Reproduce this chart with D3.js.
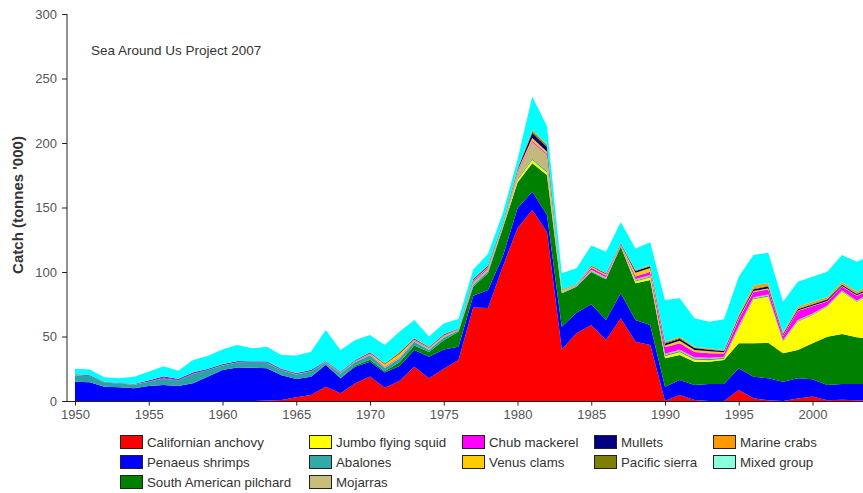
<!DOCTYPE html>
<html>
<head>
<meta charset="utf-8">
<script src="https://cdn.jsdelivr.net/npm/d3@7"></script>
<style>
  html, body { margin: 0; padding: 0; background: #fff; }
  svg { display: block; font-family: "Liberation Sans", Arial, sans-serif; }
</style>
</head>
<body>
<svg id="chart" width="863" height="493"></svg>
<script>
// Years covered by the catch series
const years = d3.range(1950, 2005);

// Catch by taxon, tonnes '000, one value per year 1950-2004
const anchovy = [0,0,0,0,0,0,0,0,0,0, 0,0,0,0.3,0.8,3,4.6,11,6,13.7, 19,10.3,15.5,26.6,17.6,25,31.8,72.5,72,104, 134,148,131,40,52.5,59,47.3,64.1,46,43.4, 0,4.6,0.8,0,0,8.5,2.1,0.5,0,2, 3.4,0.5,1,0.5,0.5];
const shrimps = [15,14.5,11,10.6,9.8,11.6,12.4,11.6,13.7,18.8, 24,26,25.8,25,19.2,14,14.2,16.9,11.6,12.9, 11.5,11.7,11.7,12.9,16.7,15,10.3,9,14,8, 15.4,14.2,13.2,17.6,16,16,15.5,19.4,16.8,15.5, 11.1,11.7,11.6,13.2,13.2,16.8,16.7,17.1,15,15.6, 13.4,11.9,12.2,12.7,12.5];
const pilchard = [0,0,0,0,0,0,0,0,0,0, 0,0,0,0,0,0,0,0.6,0.4,0.9, 1.5,1,2.8,3.5,3.7,7,11.6,7.1,13,22, 20,22.1,31,25.9,20,25,31.5,36.1,28.4,34.9, 22,19.4,18.1,17.3,18.6,19.4,25.9,27.6,22,21.9, 27.9,37.4,38.7,36.2,35];
const squid = [0,0,0,0,0,0,0,0,0,0, 0,0,0,0,0,0,0,0,0,0, 0,0,0,0,0,0,0,0,0,0.5, 1.9,2.5,2,0.5,0.3,0.2,0.2,0.1,1.5,2, 1.5,2,1.5,1,1,11.7,34.1,35.7,9,22, 22,23.3,32.8,27.6,35];
const abalones = [5,4.8,3.4,2.9,2.8,3.3,5,4.2,7.2,5, 3.6,3.8,3.8,4.2,3.8,3.6,4.2,1.2,3.3,2.8, 3.5,2.5,3,3,1.8,2.2,1,1.5,1.5,0.8, 1,1,1,0.3,0.3,0.5,0.5,0.3,0.8,0.8, 1,1,1,1,0.8,1,0.8,0.8,0.6,0.6, 0.6,0.5,0.5,0.5,0.5];
const mojarras = [0.1,0.1,0.1,0.1,0.1,0.1,0.1,0.1,0.1,0.1, 0.1,0.1,0.1,0.1,0.1,0.1,0.1,0.2,0.3,0.3, 0.5,0.5,0.6,0.7,0.7,0.9,0.6,2,2,1.2, 4.5,13,12.5,0.5,0.3,1,1,0.5,1,1, 1,1,1,1,0.7,1,0.8,0.8,0.6,0.6, 0.6,0.5,0.5,0.5,0.5];
const chubMackerel = [0.2,0.2,0.1,0.1,0.2,0.4,1,0.6,0.6,0.4, 0.3,0.4,0.4,0.5,0.5,0.4,0.4,0.3,0.4,0.4, 0.6,0.5,0.6,0.6,0.4,0.5,0.3,1,1,0.5, 1,1,1,0.3,0.3,1.5,1.3,0.6,2,2.5, 5,5,4,3.5,2.5,5,4,4,3,7, 5.5,3,3,3.5,2.5];
const venusClams = [0,0,0,0,0,0,0,0,0,0, 0,0,0,0,0,0,0,0.2,0.2,0.2, 0.5,2,2.5,0.4,0.3,0.3,0.2,0.5,0.5,0.3, 0.8,2,1.5,1,0.4,1,1,0.5,3,3, 1.5,2,1.5,1.5,1,1,0.8,0.8,0.5,0.5, 0.5,0.5,0.5,0.5,0.5];
const mullets = [0.3,0.3,0.2,0.2,0.3,0.4,0.5,0.5,0.5,0.5, 0.5,0.5,0.5,0.5,0.5,0.5,0.5,0.4,0.4,0.4, 0.5,0.4,0.6,0.6,0.5,0.6,0.3,0.8,0.8,0.4, 1,4,3.5,0.2,0.2,0.5,0.5,0.4,1.3,1.3, 1.5,1.5,1.5,1.3,1,1.2,1.5,1.5,1,1, 1,1,1,1,1];
const pacificSierra = [0.05,0.05,0.05,0.05,0.05,0.05,0.05,0.05,0.05,0.05, 0.05,0.05,0.05,0.05,0.05,0.05,0.05,0.1,0.1,0.1, 0.2,0.2,0.4,0.3,0.2,0.3,0.2,0.3,0.3,0.3, 0.5,1.5,1.5,0.1,0.1,0.3,0.2,0.2,0.5,0.5, 0.7,0.8,0.5,0.5,0.4,0.5,0.6,0.6,0.4,0.4, 0.4,0.4,0.4,0.4,0.4];
const marineCrabs = [0.05,0.05,0.05,0.05,0.05,0.05,0.05,0.05,0.05,0.05, 0.05,0.05,0.05,0.05,0.05,0.05,0.05,0,0,0.1, 0.2,0.1,0.2,0.2,0.2,0.2,0.1,0.3,0.3,0.2, 0.3,0.7,0.8,0.1,0.1,0.2,0.2,0.1,0.3,0.5, 0.7,0.8,0.6,0.5,0.3,1,2,2,1,1.5, 1.5,1.5,1.5,1.5,1.5];
const mixedGroup = [4.3,4.5,3.5,3.6,5.5,6.8,7.9,6.4,9.6,10, 11.4,12.5,10.1,11.3,10.7,13.6,14.1,24.1,16.8,15.5, 13.2,14.2,15.8,14,7.9,8,7.1,7,8.6,7.3, 6.6,26,14,12.5,12.5,15.3,16.5,16.2,16.7,17.6, 32.3,29.8,22,20.7,23.8,29.3,23.9,23.6,23.9,19.4, 19.6,19.7,21.1,23.1,23.1];

// Series names in stacking order (bottom to top)
const seriesNames = ["Californian anchovy", "Penaeus shrimps", "South American pilchard",
  "Jumbo flying squid", "Abalones", "Mojarras", "Chub mackerel", "Venus clams",
  "Mullets", "Pacific sierra", "Marine crabs", "Mixed group"];
const seriesValues = [anchovy, shrimps, pilchard, squid, abalones, mojarras,
  chubMackerel, venusClams, mullets, pacificSierra, marineCrabs, mixedGroup];
const seriesColors = ["#ff0000", "#0000ff", "#008000", "#ffff00", "#2aa5a5", "#c4b87c",
  "#ff00ff", "#ffcc00", "#000080", "#808000", "#ff9900", "#00ffff"];
const swatchColors = ["#ff0000", "#0000ff", "#008000", "#ffff00", "#33aaaa", "#c8be7c",
  "#ff00ff", "#ffcc00", "#000080", "#808000", "#ff9900", "#88ffdd"];

const yTicks = [0, 50, 100, 150, 200, 250, 300];
const xTicks = [1950, 1955, 1960, 1965, 1970, 1975, 1980, 1985, 1990, 1995, 2000];

const rows = years.map((yr, i) => {
  const r = { year: yr };
  seriesNames.forEach((n, k) => { r[n] = seriesValues[k][i]; });
  return r;
});

const svg = d3.select("#chart");
const W = 863, H = 493;

const x = d3.scaleLinear().domain([1950, 2000]).range([75, 812.5]);
const y = d3.scaleLinear().domain([0, 300]).range([401, 14]);

const stack = d3.stack().keys(seriesNames).order(d3.stackOrderNone).offset(d3.stackOffsetNone);
const layers = stack(rows);

const area = d3.area()
  .x(d => x(d.data.year))
  .y0(d => y(d[0]))
  .y1(d => y(d[1]));

svg.append("defs").append("clipPath").attr("id", "plot")
  .append("rect").attr("x", 67).attr("y", 0).attr("width", W - 67).attr("height", 401.5);

svg.append("g").attr("clip-path", "url(#plot)")
  .selectAll("path").data(layers).join("path")
  .attr("d", area)
  .attr("fill", (d, i) => seriesColors[i]);

// Axes
const axisColor = "#222";
const labelColor = "#555";

const yAxis = svg.append("g").attr("transform", "translate(67,0)")
  .call(d3.axisLeft(y).tickValues(yTicks).tickSize(5).tickPadding(5).tickSizeOuter(0));
yAxis.select(".domain").remove();
yAxis.append("line").attr("x1", 0).attr("x2", 0).attr("y1", 14).attr("y2", 402).attr("stroke", axisColor);

const xAxis = svg.append("g").attr("transform", "translate(0,401.5)")
  .call(d3.axisBottom(x).tickValues(xTicks).tickFormat(d3.format("d")).tickSize(4).tickPadding(4).tickSizeOuter(0));
xAxis.select(".domain").remove();
xAxis.append("line").attr("x1", 67).attr("x2", W).attr("y1", 0).attr("y2", 0).attr("stroke", axisColor);

svg.selectAll(".tick line").attr("stroke", axisColor);
svg.selectAll(".tick text")
  .attr("fill", labelColor)
  .style("font-size", "13px")
  .style("font-family", "'Liberation Sans', Arial, sans-serif");

// Axis title
svg.append("text")
  .attr("transform", "translate(23,205) rotate(-90)")
  .attr("text-anchor", "middle")
  .attr("fill", "#333")
  .style("font-size", "15px")
  .style("font-weight", "bold")
  .text("Catch (tonnes '000)");

// Source note
svg.append("text")
  .attr("x", 91).attr("y", 55)
  .attr("fill", "#333")
  .style("font-size", "13.5px")
  .text("Sea Around Us Project 2007");

// Legend, filled column by column
const legendCols = [
  [0, 1, 2],
  [3, 4, 5],
  [6, 7],
  [8, 9],
  [10, 11]
];
const colX = [120, 309, 462, 594, 713];
const rowY = [442, 462, 482];
const legend = svg.append("g");
legendCols.forEach((col, c) => {
  col.forEach((k, r) => {
    const g = legend.append("g").attr("transform", `translate(${colX[c]},${rowY[r]})`);
    g.append("rect").attr("x", 0.5).attr("y", -6.5).attr("width", 22).attr("height", 13)
      .attr("fill", swatchColors[k]).attr("stroke", "#222").attr("stroke-width", 1);
    g.append("text").attr("x", 27).attr("y", 0).attr("dy", "0.35em")
      .attr("fill", "#333").style("font-size", "13.3px").text(seriesNames[k]);
  });
});
</script>
</body>
</html>
